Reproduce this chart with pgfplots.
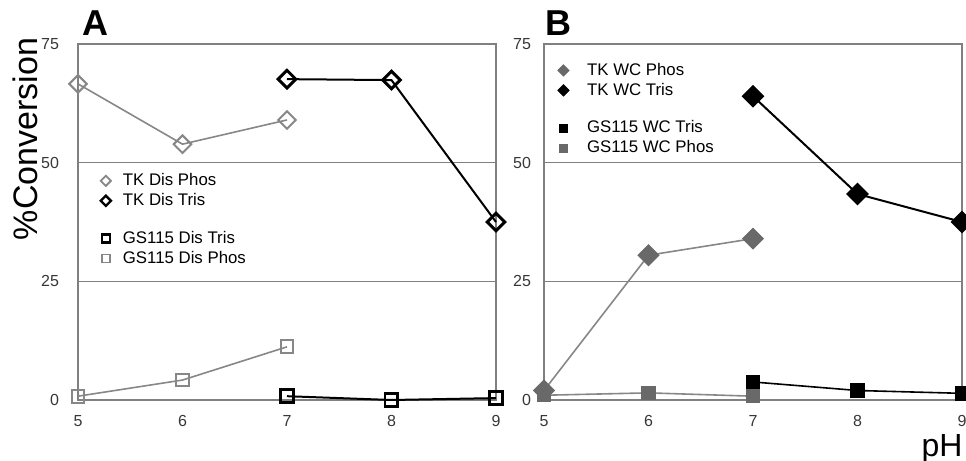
\documentclass[border=0pt]{standalone}
\usepackage{pgfplots}
\pgfplotsset{compat=1.18}
\usepackage{fontspec}
\setmainfont{Liberation Sans}

\definecolor{frame}{RGB}{128,128,128}
\definecolor{ticktext}{RGB}{55,55,55}
\definecolor{phosline}{RGB}{135,135,135}
\definecolor{phosfill}{RGB}{105,105,105}

\pgfplotsset{
  panel/.style={
    scale only axis, width=209pt, height=178pt, anchor=south west,
    xmin=5, xmax=9, ymin=0, ymax=75,
    xtick={5,6,7,8,9}, ytick={0,25,50,75},
    major tick length=0pt,
    axis line style={frame, line width=0.8pt},
    ymajorgrids, grid style={frame, line width=0.8pt},
    tick label style={font=\fontsize{8}{9}\selectfont, text=ticktext},
    /pgf/number format/assume math mode=true,
    xticklabel style={yshift=-4pt},
    clip=false,
    legend style={draw=none, fill=none, font=\fontsize{8.4}{9.5}\selectfont,
      row sep=-1.6pt, column sep=3pt, inner sep=1pt},
    legend cell align=left,
  },
  dmd/.style={mark=square, mark options={rotate=45, #1}},
  dmdf/.style={mark=square*, mark options={rotate=45, #1}},
}

\begin{document}
\begin{tikzpicture}
\useasboundingbox (0,0) rectangle (483pt,230.5pt);

% ---------------- Panel A: disrupted cells ----------------
\begin{axis}[panel, at={(39pt,30.5pt)},
  yticklabel style={xshift=-6pt},
  legend style={at={(0.02,0.655)}, anchor=north west, column sep=4pt}]
% GS115 Dis Phos
\addplot[phosline, line width=0.8pt, mark=square, mark size=3.2pt,
  mark options={fill=white, line width=1pt}, forget plot]
  coordinates {(5,0.8) (6,4.2) (7,11.2)};
% GS115 Dis Tris
\addplot[black, line width=1pt, mark=square, mark size=3.2pt,
  mark options={fill=white, line width=1.4pt}, forget plot]
  coordinates {(7,0.8) (8,0) (9,0.4)};
% TK Dis Phos
\addplot[phosline, line width=0.8pt, mark size=3.1pt,
  dmd={fill=white, line width=1pt}, forget plot]
  coordinates {(5,66.6) (6,53.9) (7,59.0)};
% TK Dis Tris
\addplot[black, line width=1pt, mark size=3.1pt,
  dmd={fill=white, line width=1.5pt}, forget plot]
  coordinates {(7,67.6) (8,67.4) (9,37.5)};

\addlegendimage{only marks, phosline, mark size=1.8pt, dmd={line width=0.9pt}}
\addlegendentry{TK Dis Phos}
\addlegendimage{only marks, black, mark size=1.8pt, dmd={line width=1.2pt}}
\addlegendentry{TK Dis Tris}
\addlegendimage{empty legend}
\addlegendentry{\rule{0pt}{5pt}}
\addlegendimage{only marks, black, mark=square, mark size=2pt, mark options={line width=1.1pt}}
\addlegendentry{GS115 Dis Tris}
\addlegendimage{only marks, phosline, mark=square, mark size=2pt, mark options={line width=0.9pt}}
\addlegendentry{GS115 Dis Phos}
\end{axis}

% ---------------- Panel B: whole cells ----------------
\begin{axis}[panel, at={(272pt,30.5pt)},
  yticklabel style={xshift=-3pt},
  legend style={at={(0.0,0.965)}, anchor=north west, column sep=7pt}]
% GS115 WC Phos
\addplot[phosline, line width=0.8pt, mark=square*, mark size=3.2pt,
  mark options={fill=phosfill, draw=phosfill}, forget plot]
  coordinates {(5,1.0) (6,1.5) (7,0.8)};
% GS115 WC Tris
\addplot[black, line width=0.8pt, mark=square*, mark size=3.2pt,
  mark options={fill=black}, forget plot]
  coordinates {(7,3.8) (8,2.0) (9,1.4)};
% TK WC Phos
\addplot[phosline, line width=0.8pt, mark size=3.5pt,
  dmdf={fill=phosfill, draw=phosfill}, forget plot]
  coordinates {(5,2.0) (6,30.5) (7,34.0)};
% TK WC Tris
\addplot[black, line width=1pt, mark size=3.5pt,
  dmdf={fill=black}, forget plot]
  coordinates {(7,64.0) (8,43.4) (9,37.5)};

\addlegendimage{only marks, phosfill, mark size=2pt, dmdf={}}
\addlegendentry{TK WC Phos}
\addlegendimage{only marks, black, mark size=2pt, dmdf={}}
\addlegendentry{TK WC Tris}
\addlegendimage{empty legend}
\addlegendentry{\rule{0pt}{5pt}}
\addlegendimage{only marks, black, mark=square*, mark size=2pt}
\addlegendentry{GS115 WC Tris}
\addlegendimage{only marks, phosfill, mark=square*, mark size=2pt}
\addlegendentry{GS115 WC Phos}
\end{axis}

% panel letters and axis titles
\node[font=\bfseries\fontsize{18}{20}\selectfont] at (47.5pt,219pt) {A};
\node[font=\bfseries\fontsize{18}{20}\selectfont] at (279pt,219pt) {B};
\node[rotate=90, font=\fontsize{17}{19}\selectfont] at (12.5pt,161pt) {\%Conversion};
\node[font=\fontsize{16}{18}\selectfont, anchor=base] at (471pt,2pt) {pH};
\end{tikzpicture}
\end{document}
